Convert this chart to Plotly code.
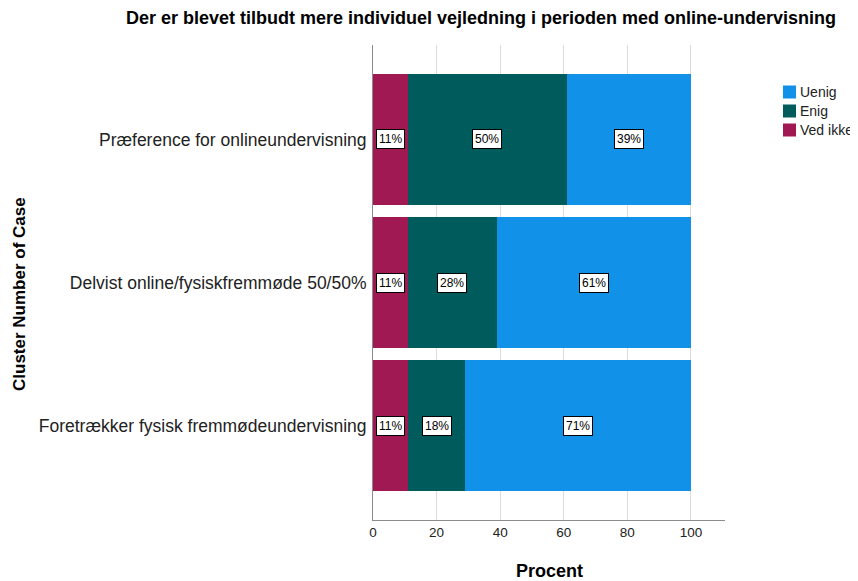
import plotly.graph_objects as go

categories = [
    "Præference for onlineundervisning",
    "Delvist online/fysiskfremmøde 50/50%",
    "Foretrækker fysisk fremmødeundervisning",
]
ved_ikke = [11, 11, 11]
enig = [50, 28, 18]
uenig = [39, 61, 71]

series = [
    ("Ved ikke", ved_ikke, "#A01952"),
    ("Enig", enig, "#005C5C"),
    ("Uenig", uenig, "#1192E8"),
]

# plot area in screen pixels (page has an 8px body margin)
PX_L, PX_R, PX_T, PX_B = 373, 725, 45, 520


def px_x(x):
    return (x - PX_L) / (PX_R - PX_L)


def px_y(y):
    return (PX_B - y) / (PX_B - PX_T)


fig = go.Figure()
for name, values, color in series:
    fig.add_trace(
        go.Bar(
            x=values,
            y=categories,
            orientation="h",
            name=name,
            showlegend=False,
            marker=dict(color=color, line=dict(width=0)),
        )
    )

annotations = []
shapes = []

# percentage labels in white boxes at the middle of each segment
cum = [0, 0, 0]
for name, values, color in series:
    for i, v in enumerate(values):
        annotations.append(
            dict(
                x=cum[i] + v / 2,
                y=categories[i],
                text=f"{v}%",
                showarrow=False,
                font=dict(size=12, color="#000000"),
                bgcolor="#FFFFFF",
                bordercolor="#000000",
                borderwidth=1,
                borderpad=2,
            )
        )
        cum[i] += v

# legend drawn by hand (swatch right next to the text)
for k, (name, values, color) in enumerate(reversed(series)):
    yc = 92 + 19 * k
    shapes.append(
        dict(
            type="rect",
            xref="paper",
            yref="paper",
            x0=px_x(783),
            x1=px_x(796),
            y0=px_y(yc + 6.5),
            y1=px_y(yc - 6.5),
            fillcolor=color,
            line=dict(width=0),
        )
    )
    annotations.append(
        dict(
            text=name,
            xref="paper",
            yref="paper",
            x=px_x(798),
            y=px_y(yc),
            xanchor="left",
            yanchor="middle",
            showarrow=False,
            font=dict(size=14, color="#222222"),
        )
    )

# axis titles
annotations.append(
    dict(
        text="<b>Cluster Number of Case</b>",
        xref="paper",
        yref="paper",
        x=px_x(19),
        y=px_y(294),
        xanchor="center",
        yanchor="middle",
        textangle=-90,
        showarrow=False,
        font=dict(size=17, color="#000000"),
    )
)
annotations.append(
    dict(
        text="<b>Procent</b>",
        xref="paper",
        yref="paper",
        x=0.5,
        y=px_y(571),
        xanchor="center",
        yanchor="middle",
        showarrow=False,
        font=dict(size=18, color="#000000"),
    )
)

fig.update_layout(
    barmode="stack",
    bargap=0.09,
    width=850,
    height=573,
    margin=dict(l=365, r=133, t=37, b=61),
    paper_bgcolor="#FFFFFF",
    plot_bgcolor="#FFFFFF",
    font=dict(family="Liberation Sans, Arial", color="#222222"),
    showlegend=False,
    title=dict(
        text="<b>Der er blevet tilbudt mere individuel vejledning i perioden med online-undervisning</b>",
        x=0.5565,
        xanchor="center",
        y=0.9825,
        yanchor="middle",
        font=dict(size=18, color="#000000"),
    ),
    xaxis=dict(
        range=[0, 110.7],
        tickvals=[0, 20, 40, 60, 80, 100],
        showgrid=True,
        gridcolor="#DCDCDC",
        gridwidth=1,
        zeroline=False,
        showline=True,
        linecolor="#8C8C8C",
        linewidth=1,
        ticks="",
        automargin=False,
        tickfont=dict(size=13.5, color="#222222"),
    ),
    yaxis=dict(
        categoryorder="array",
        categoryarray=categories,
        autorange=False,
        range=[2.66, -0.66],
        showgrid=False,
        zeroline=False,
        showline=True,
        linecolor="#8C8C8C",
        linewidth=1,
        ticks="",
        automargin=False,
        ticklabelstandoff=2,
        tickfont=dict(size=17.5, color="#222222"),
    ),
    shapes=shapes,
    annotations=annotations,
)

fig.write_html("out.html")
